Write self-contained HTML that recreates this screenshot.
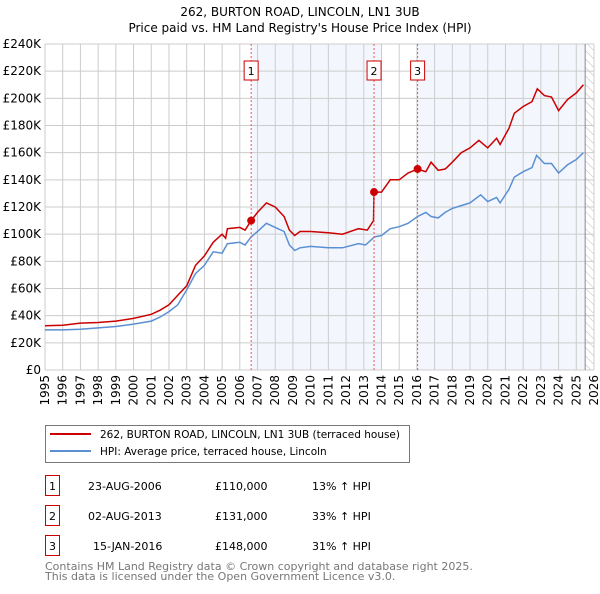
<!DOCTYPE html>
<html><head><meta charset="utf-8"><style>
body{margin:0;background:#fff;font-family:"DejaVu Sans","Liberation Sans",sans-serif;}
svg text{font-family:"DejaVu Sans","Liberation Sans",sans-serif;}
</style></head><body>
<svg id="chart" width="600" height="590" viewBox="0 0 600 590" xmlns="http://www.w3.org/2000/svg">
<text x="300" y="16" text-anchor="middle" font-size="12">262, BURTON ROAD, LINCOLN, LN1 3UB</text>
<text x="300" y="32" text-anchor="middle" font-size="12">Price paid vs. HM Land Registry's House Price Index (HPI)</text>
<g id="bands"></g><g id="grid"></g><g id="axes"></g><g id="series"></g><g id="markers"></g>
<g>
<rect x="45.5" y="425.5" width="364" height="37" fill="#fff" stroke="#777"/>
<line x1="50" y1="434" x2="91" y2="434" stroke="#cc0000" stroke-width="2"/>
<text x="100" y="438" font-size="10.5" textLength="300">262, BURTON ROAD, LINCOLN, LN1 3UB (terraced house)</text>
<line x1="50" y1="451" x2="91" y2="451" stroke="#5b8fd4" stroke-width="2"/>
<text x="100" y="455" font-size="10.5">HPI: Average price, terraced house, Lincoln</text>
</g>
<g id="table" font-size="11"></g>
<text x="45" y="570" font-size="11" fill="#777">Contains HM Land Registry data © Crown copyright and database right 2025.</text>
<text x="45" y="580" font-size="11" fill="#777">This data is licensed under the Open Government Licence v3.0.</text>
</svg>
<script>
const hpiYears=[1995,1996,1997,1998,1999,2000,2001,2001.5,2002,2002.5,2003,2003.5,2004,2004.5,2005,2005.3,2006,2006.3,2006.64,2007,2007.5,2008,2008.5,2008.8,2009.1,2009.4,2010,2011,2011.8,2012.7,2013.1,2013.6,2014,2014.5,2015,2015.5,2016.04,2016.5,2016.8,2017.2,2017.6,2018,2018.5,2019,2019.6,2020,2020.5,2020.7,2021.2,2021.5,2022,2022.5,2022.76,2023.2,2023.6,2024,2024.5,2025,2025.4];
const hpiValues=[29.5,29.5,30,31,32,33.8,36,39,43,48,59,71,77,87,86,93,94,92,98,102,108,105,102,92,88,90,91,90,90,93,92,98,99,104,105.5,108,113,116,113,112,116,119,121,123,129,124,127,123,133,142,146,149,158,152,152,145,151,155,160];
const ppYears=[1995,1996,1997,1998,1999,2000,2001,2001.5,2002,2002.5,2003,2003.5,2004,2004.5,2005,2005.2,2005.3,2006,2006.3,2006.64,2007,2007.5,2008,2008.5,2008.8,2009.1,2009.4,2010,2011,2011.8,2012.7,2013.2,2013.55,2013.58,2014,2014.5,2015,2015.5,2016.04,2016.5,2016.8,2017.2,2017.6,2018,2018.5,2019,2019.5,2020,2020.5,2020.7,2021.2,2021.5,2022,2022.5,2022.8,2023.2,2023.6,2024,2024.5,2025,2025.4];
const ppValues=[32.6,33,34.5,35,36,38,41,44,48,55,62,77,84,94,100,97,104,105,103,110,116,123,120,113,103,99,102,102,101,100,104,103,110,131,131,140,140,145,148,146,153,147,148,153,160,163.5,169,163.5,170.6,166,178,189,194,197.6,207,202,201,191,199,204,210];
const sales=[{n:"1",yr:2006.64,v:110,date:"23-AUG-2006",price:"£110,000",pct:"13% ↑ HPI"},{n:"2",yr:2013.58,v:131,date:"02-AUG-2013",price:"£131,000",pct:"33% ↑ HPI"},{n:"3",yr:2016.04,v:148,date:"15-JAN-2016",price:"£148,000",pct:"31% ↑ HPI"}];
const yTicks=[0,20,40,60,80,100,120,140,160,180,200,220,240];
const xTicks=[1995,1996,1997,1998,1999,2000,2001,2002,2003,2004,2005,2006,2007,2008,2009,2010,2011,2012,2013,2014,2015,2016,2017,2018,2019,2020,2021,2022,2023,2024,2025,2026];
const X0=45,X1=594,Y0=370,Y1=44;
const xs=y=>X0+(y-1995)/(2026-1995)*(X1-X0);
const ys=v=>Y0-v/240*(Y0-Y1);
const NS="http://www.w3.org/2000/svg";
function mk(tag,attrs,parent,txt){const e=document.createElementNS(NS,tag);for(const k in attrs)e.setAttribute(k,attrs[k]);if(txt!=null)e.textContent=txt;document.getElementById(parent).appendChild(e);return e;}
let b=mk('rect',{x:xs(2006.64),y:Y1,width:xs(2014)-xs(2006.64),height:Y0-Y1,fill:'#eef3fc',opacity:0.7},'bands');


b=mk('rect',{x:xs(2016.04),y:Y1,width:xs(2025.5)-xs(2016.04),height:Y0-Y1,fill:'#eef3fc',opacity:0.7},'bands');


const defs=document.createElementNS(NS,'defs');defs.innerHTML='<pattern id="hatch" width="6" height="6" patternUnits="userSpaceOnUse" patternTransform="rotate(-45)"><line x1="0" y1="0" x2="0" y2="6" stroke="#bbb" stroke-width="1"/></pattern>';document.getElementById('chart').prepend(defs);
b=mk('rect',{x:xs(2025.5),y:Y1,width:X1-xs(2025.5),height:Y0-Y1,fill:'url(#hatch)'},'bands');


yTicks.forEach(t=>{const l=mk('line',{x1:X0,x2:X1,y1:ys(t),y2:ys(t),stroke:'#cccccc'},'grid');


const tx=mk('text',{x:X0-4,y:ys(t)+4,'text-anchor':'end','font-size':12},'axes',t===0?'£0':'£'+t+'K');

});
xTicks.forEach(t=>{const l=mk('line',{x1:xs(t),x2:xs(t),y1:Y1,y2:Y0,stroke:'#cccccc'},'grid');


const tx=mk('text',{x:0,y:0,'text-anchor':'end','font-size':12,transform:`translate(${xs(t)+4},${Y0+5}) rotate(-90)`},'axes',String(t));

});
let ln=mk('line',{x1:xs(2025.5),x2:xs(2025.5),y1:Y1,y2:Y0,stroke:'#888'},'grid');


const pts=(a,b)=>a.map((y,i)=>xs(y).toFixed(1)+','+ys(b[i]).toFixed(1)).join(' ');
let p=mk('polyline',{points:pts(hpiYears,hpiValues),fill:'none',stroke:'#5b8fd4','stroke-width':1.5},'series');


p=mk('polyline',{points:pts(ppYears,ppValues),fill:'none',stroke:'#cc0000','stroke-width':1.5},'series');


sales.forEach((s,i)=>{
const v=mk('line',{x1:xs(s.yr),x2:xs(s.yr),y1:Y1,y2:Y0,stroke:'#ee5555','stroke-dasharray':'2,2'},'markers');


const c=mk('circle',{cx:xs(s.yr),cy:ys(s.v),r:4,fill:'#cc0000'},'markers');


const r=mk('rect',{x:xs(s.yr)-7,y:61,width:14,height:19,fill:'#fff',stroke:'#cc0000'},'markers');


const t=mk('text',{x:xs(s.yr),y:75,'text-anchor':'middle','font-size':11},'markers',s.n);


const ty=475+i*30;
const rb=mk('rect',{x:45.5,y:ty+0.5,width:14,height:20,fill:'#fff',stroke:'#cc0000'},'table');


const tn=mk('text',{x:52.5,y:ty+15,'text-anchor':'middle'},'table',s.n);


const td=mk('text',{x:i===2?93:88,y:ty+15},'table',s.date);


const tp=mk('text',{x:215,y:ty+15},'table',s.price);


const tc=mk('text',{x:312,y:ty+15},'table',s.pct);


});
</script>
</body></html>
